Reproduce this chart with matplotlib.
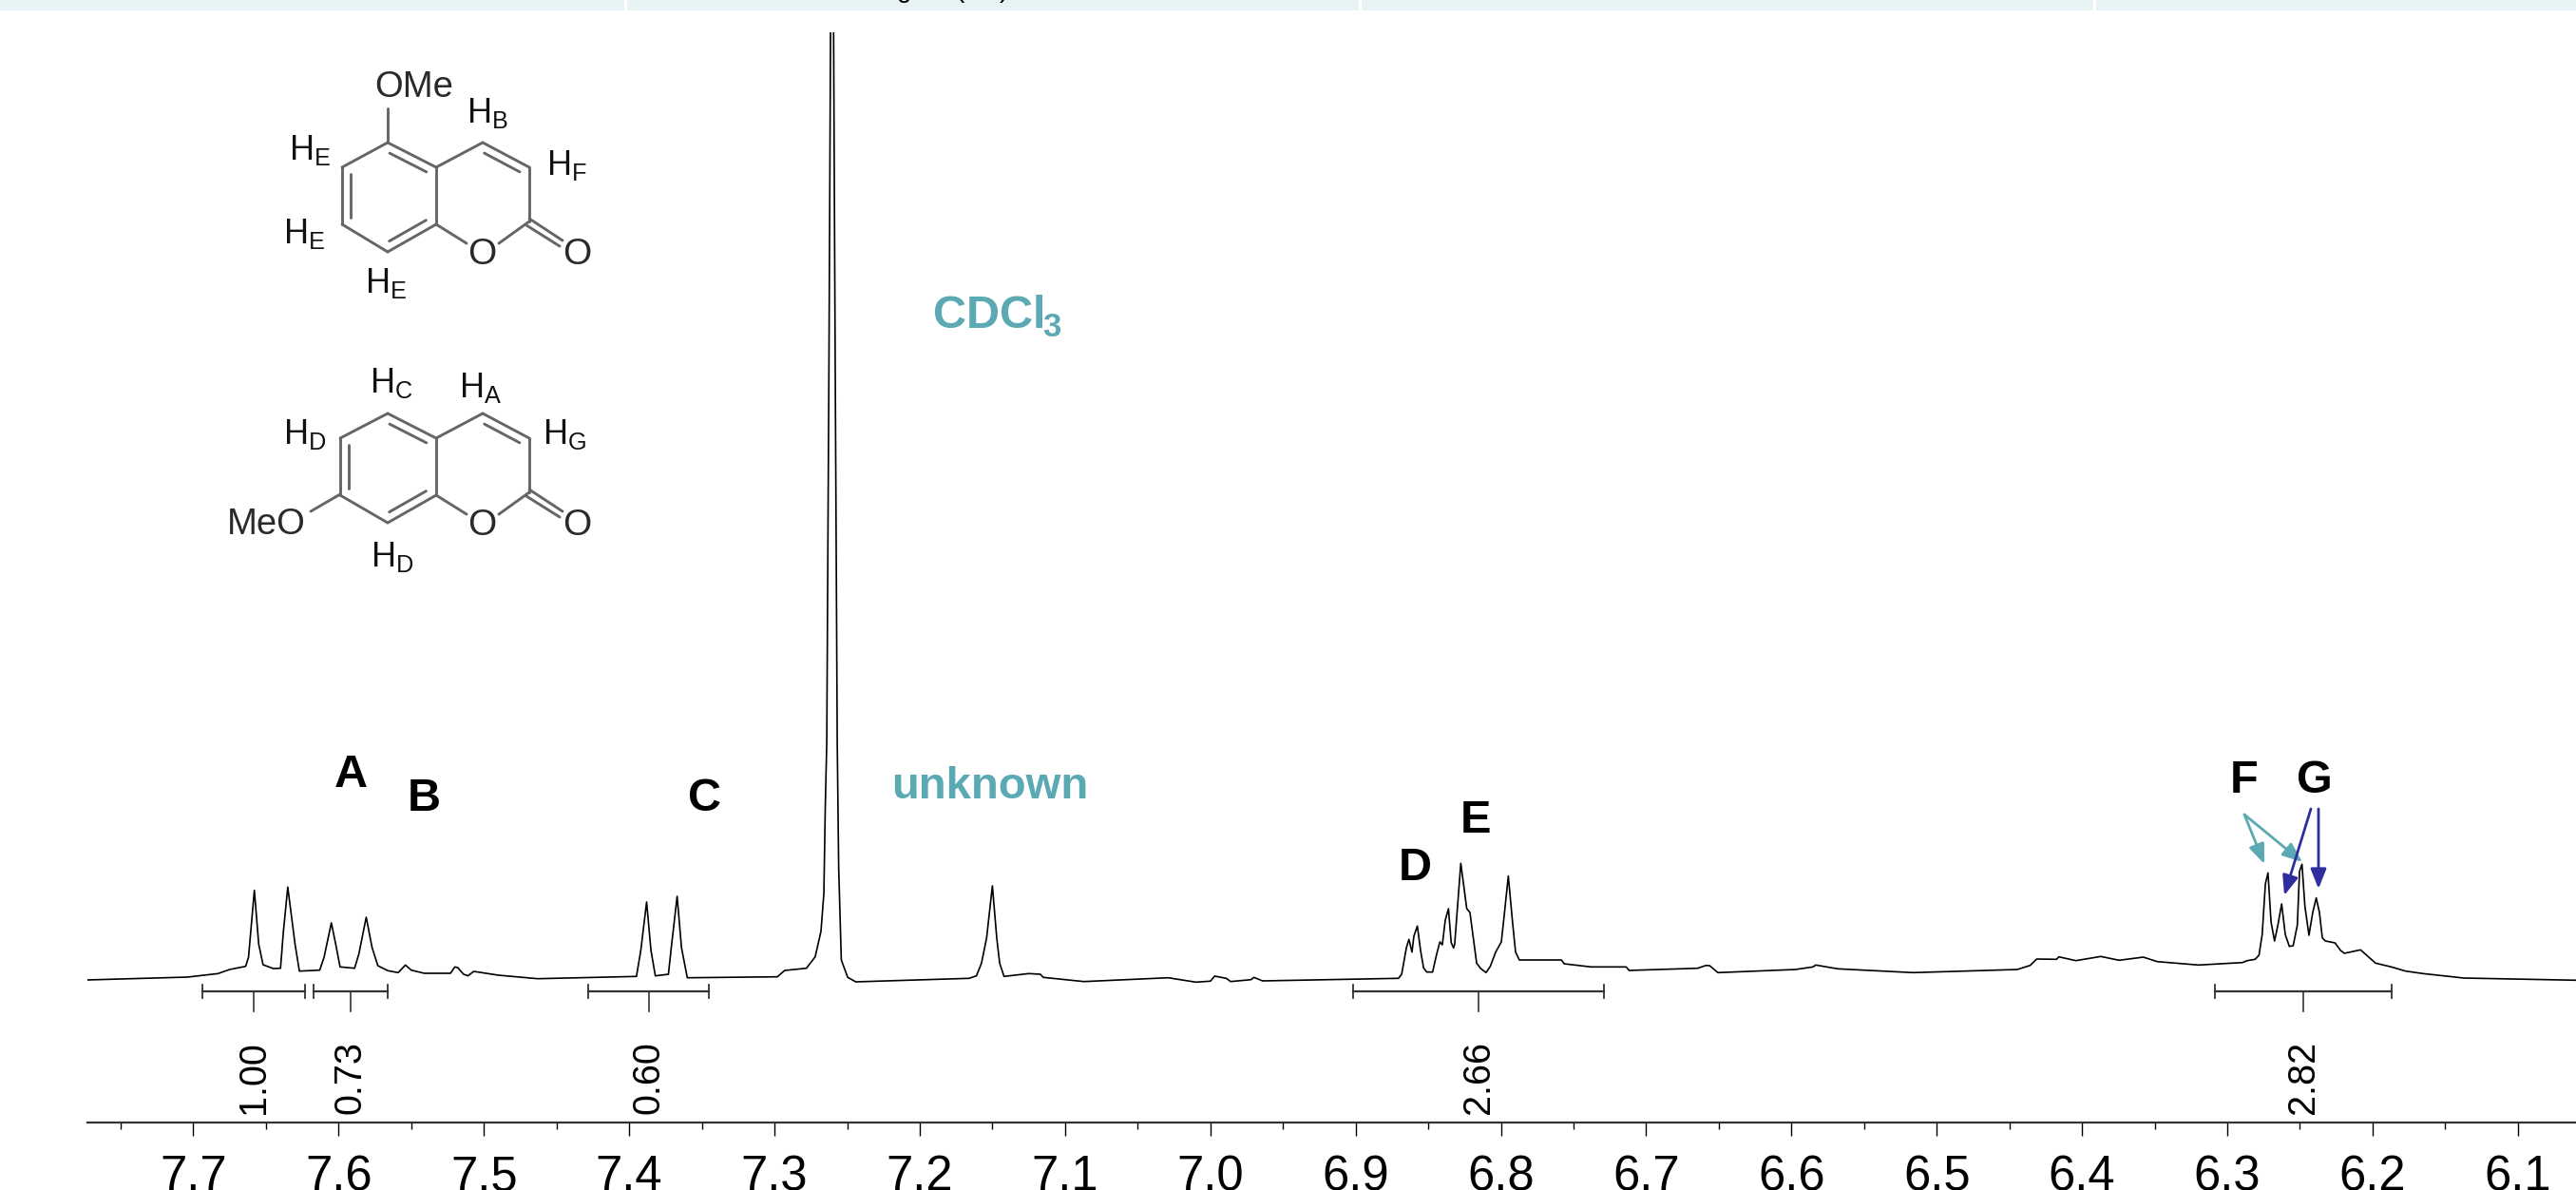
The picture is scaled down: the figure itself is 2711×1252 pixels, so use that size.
from matplotlib import pyplot as plt
import numpy as np

plt.rcParams['font.family'] = ['Liberation Sans', 'DejaVu Sans']
plt.rcParams['mathtext.fontset'] = 'custom'
plt.rcParams['mathtext.rm'] = 'Liberation Sans'

# spectrum (ppm, height above the axis line)
ppm = [7.773, 7.704, 7.683, 7.675, 7.664, 7.662, 7.658, 7.655, 7.652, 7.645, 7.640, 7.638, 7.635, 7.630, 7.627,
       7.613, 7.610, 7.605, 7.602, 7.599, 7.589, 7.586, 7.581, 7.577, 7.573, 7.566, 7.559, 7.554, 7.550, 7.541,
       7.523, 7.520, 7.518, 7.514, 7.511, 7.507, 7.490, 7.463, 7.395, 7.392, 7.388, 7.385, 7.382, 7.373, 7.371,
       7.367, 7.364, 7.360, 7.298, 7.293, 7.278, 7.272, 7.268, 7.266, 7.265, 7.2640, 7.2625, 7.2614, 7.2604,
       7.2593, 7.2582, 7.2568, 7.2558, 7.254, 7.2496, 7.244, 7.166, 7.161, 7.1575, 7.154, 7.150, 7.147, 7.145,
       7.142, 7.125, 7.117, 7.115, 7.087, 7.029, 7.010, 7.000, 6.997, 6.989, 6.986, 6.972, 6.970, 6.964,
       6.8705, 6.8683, 6.865, 6.8633, 6.8612, 6.8599, 6.8575, 6.8553, 6.8532, 6.851, 6.847, 6.8444, 6.842,
       6.8403, 6.8383, 6.8361, 6.8342, 6.8326, 6.8318, 6.8276, 6.8235, 6.8213, 6.8167, 6.8139, 6.8102, 6.8073,
       6.8036, 6.7997, 6.7975, 6.7949, 6.792, 6.7899, 6.7873, 6.7583, 6.7565, 6.7379, 6.7138, 6.7117, 6.6646,
       6.6588, 6.6563, 6.6506, 6.5973, 6.5852, 6.5833, 6.5681, 6.5163, 6.4445, 6.4357, 6.4312, 6.4175, 6.416,
       6.4042, 6.3871, 6.3745, 6.3578, 6.3483, 6.3198, 6.2896, 6.2863, 6.2809, 6.2782, 6.276, 6.2738, 6.272,
       6.2699, 6.2675, 6.2652, 6.2626, 6.2601, 6.2573, 6.2547, 6.2518, 6.2503, 6.2486, 6.2466, 6.2438, 6.2412,
       6.2388, 6.2366, 6.2346, 6.2325, 6.2259, 6.222, 6.2194, 6.2083, 6.198, 6.1871, 6.1773, 6.1653, 6.1373, 6.06]
height = [150, 153, 156.7, 161, 164.3, 174, 244.3, 187.7, 166, 162, 162.3, 201, 247.7, 187.7, 159.3,
          160.3, 174, 210, 187.7, 163.7, 162.3, 177.7, 216, 184.3, 165, 159.7, 157.7, 165.7, 160.3, 157,
          157, 163.7, 163, 156, 154.3, 159, 155, 151.3, 153.7, 181, 232, 181, 154.3, 156, 184.3,
          238, 184, 152.3, 153.3, 160, 162.3, 174.3, 201, 241, 334, 401, 800, 1147, 1260,
          1147, 800, 401, 268, 171, 152.7, 148, 151.7, 154.3, 167.7, 194, 249, 194, 167.7,
          153.7, 156.7, 156, 152.7, 148.3, 152.3, 147.7, 148.7, 154, 151.7, 148.3, 150.3, 152.7, 149,
          151.7, 156, 184.3, 192.7, 179.3, 196, 206.7, 181, 162.7, 158.3, 158.3, 176, 190,
          187, 212.7, 225, 189.3, 183.7, 187.7, 272.7, 225, 221, 167.7, 162, 157.7, 164.3,
          179.3, 190, 221, 259.3, 211, 179.3, 171, 171, 167, 163.7, 163.7, 160, 162.3,
          165.3, 165, 157.7, 161, 163.7, 165.7, 161.7, 157.7, 161, 165.3, 172, 171.7, 174.3,
          170.3, 174.7, 170.7, 174, 169.3, 165.7, 168.3, 170.3, 171.7, 176, 197.7, 251, 262.7,
          211, 191, 207.7, 230, 197.7, 185.3, 186, 207.7, 264.3, 271.7, 227.7, 197, 221,
          236.3, 221, 194.3, 191, 189, 181, 178, 181.7, 167.7, 163.7, 159.3, 156.7, 152, 149.7]

integral_left = [7.694, 7.6175, 7.428, 6.902, 6.3087]
integral_right = [7.623, 7.566, 7.345, 6.729, 6.1867]
integral_values = ['1.00', '0.73', '0.60', '2.66', '2.82']

major_ticks = [7.7, 7.6, 7.5, 7.4, 7.3, 7.2, 7.1, 7.0, 6.9, 6.8, 6.7, 6.6, 6.5, 6.4, 6.3, 6.2, 6.1]
minor_ticks = [7.75, 7.65, 7.55, 7.45, 7.35, 7.25, 7.15, 7.05, 6.95, 6.85, 6.75, 6.65, 6.55, 6.45, 6.35, 6.25, 6.15]

W, H = 2711, 1252
TEAL = '#5aa9b3'
BLUE = '#2f2e9e'
GREY = '#666666'

fig = plt.figure(figsize=(W / 100, H / 100), dpi=100)

# spectrum axes, only the bottom line is visible
ax = fig.add_axes([92 / W, 1 - 1181 / H, (W - 92) / W, (1181 - 34) / H])
ax.set_xlim(7.7729, 6.06)
ax.set_ylim(0, 1147)
ax.plot(ppm, height, color='black', lw=1.2, solid_joinstyle='round')
for s in ['top', 'left', 'right']:
    ax.spines[s].set_visible(False)
ax.spines['bottom'].set_linewidth(1.6)
ax.spines['bottom'].set_color('#333333')
ax.set_yticks([])
ax.set_xticks(major_ticks)
ax.set_xticklabels([f'{t:.1f}' for t in major_ticks])
ax.set_xticks(minor_ticks, minor=True)
ax.tick_params(axis='x', which='major', length=10.3, width=1, pad=13.5, labelsize=36.5)
ax.tick_params(axis='x', which='minor', length=5, width=1)

# integrals
for a, b, v in zip(integral_left, integral_right, integral_values):
    mid = (a + b) / 2
    ax.plot([a, b], [138, 138], color='#333333', lw=1.6)
    ax.plot([a, a], [131, 145], color='#333333', lw=1.3)
    ax.plot([b, b], [131, 145], color='#333333', lw=1.3)
    ax.plot([mid, mid], [138, 117], color='#333333', lw=1.2)
    ax.text(mid, 9, v, rotation=90, ha='center', va='bottom', fontsize=28.5)

# overlay in pixel coordinates for everything that is not the spectrum
ov = fig.add_axes([0, 0, 1, 1])
ov.set_xlim(0, W)
ov.set_ylim(H, 0)
ov.axis('off')
ov.patch.set_alpha(0)

# table header strip, its text is cut by the crop and only descenders show
for x0, x1 in [(0, 657), (660, 1430), (1433, 2203), (2206, W)]:
    ov.fill_between([x0, x1], 0, 11, color='#e6f2f4', lw=0)
for s, x in [('g', 952), ('(', 1010), (')', 1056)]:
    ov.text(x, -3, s, ha='center', va='baseline', fontsize=20)


def bond(a, b):
    ov.plot([a[0], b[0]], [a[1], b[1]], color=GREY, lw=2.1, solid_capstyle='round')


def double(a, b, c):
    # inner line of a double bond, pushed towards the ring centre c
    a, b, c = np.array(a, float), np.array(b, float), np.array(c, float)
    d = b - a
    n = np.array([-d[1], d[0]]) / np.hypot(*d)
    if np.dot(c - a, n) < 0:
        n = -n
    bond(a + 0.12 * d + 9 * n, b - 0.12 * d + 9 * n)


def coumarin(dy, r):
    # r: left ring x shift
    c5, c4a, c4, c3 = (408, 150 + dy), (459, 176 + dy), (508, 150 + dy), (557, 176 + dy)
    c2, c8a, c8 = (557, 233 + dy), (459, 236 + dy), (408, 265 + dy)
    c7, c6 = (360 - r, 236 + dy), (360 - r, 176 + dy)
    for a, b in [(c5, c4a), (c4a, c4), (c4, c3), (c3, c2), (c4a, c8a), (c8a, c8), (c8, c7), (c7, c6), (c6, c5)]:
        bond(a, b)
    bond(c8a, (491, 256 + dy))
    bond((525, 256 + dy), c2)
    left = (408, 206 + dy)
    right = (508, 206 + dy)
    double(c5, c4a, left)
    double(c8, c8a, left)
    double(c6, c7, left)
    double(c4, c3, right)
    bond((c2[0], c2[1] - 3), (592, 253 + dy))
    bond((c2[0] - 3, c2[1] + 4), (589, 259 + dy))
    ov.text(507, 268 + dy, 'O', ha='center', va='center', fontsize=28, color='#2a2a2a')
    ov.text(607, 268 + dy, 'O', ha='center', va='center', fontsize=28, color='#2a2a2a')


coumarin(0, 0)
coumarin(285, 2)
bond((408, 114), (408, 150))
bond((358, 520), (327, 538))
ov.text(436, 92, 'OMe', ha='center', va='center', fontsize=27.5, color='#2a2a2a')
ov.text(280, 552, 'MeO', ha='center', va='center', fontsize=27.5, color='#2a2a2a')

h_labels = [('B', 491, 129), ('E', 304, 168), ('F', 575, 184), ('E', 298, 256), ('E', 384, 308),
            ('C', 389, 413), ('A', 483, 418), ('D', 298, 467), ('G', 571, 467), ('D', 390, 596)]
for sub, x, y in h_labels:
    ov.text(x, y, 'H$_{\\mathrm{' + sub + '}}$', ha='left', va='baseline', fontsize=26, color='#111111')

# peak letters
letters = [('A', 369, 828), ('B', 446, 853), ('C', 742, 853), ('D', 1489, 926), ('E', 1553, 876),
           ('F', 2362, 834), ('G', 2436, 834)]
for s, x, y in letters:
    ov.text(x, y, s, ha='center', va='baseline', fontsize=35, fontweight='bold', color='black')
ov.text(1042, 840, 'unknown', ha='center', va='baseline', fontsize=34, fontweight='bold', color=TEAL)
ov.text(982, 345, 'CDCl', ha='left', va='baseline', fontsize=35, fontweight='bold', color=TEAL)
ov.text(1097, 354, '3', ha='left', va='baseline', fontsize=25, fontweight='bold', color=TEAL)

# arrows
for start, end, col in [((2362, 857), (2383, 909), TEAL), ((2362, 857), (2423, 907), TEAL),
                        ((2432, 851), (2404, 942), BLUE), ((2440, 851), (2440, 935), BLUE)]:
    ov.annotate('', xy=end, xytext=start,
                arrowprops=dict(arrowstyle='-|>,head_length=0.7,head_width=0.28', color=col, lw=2,
                                shrinkA=0, shrinkB=0, mutation_scale=18))

fig.savefig('out.png', dpi=100, facecolor='white')
